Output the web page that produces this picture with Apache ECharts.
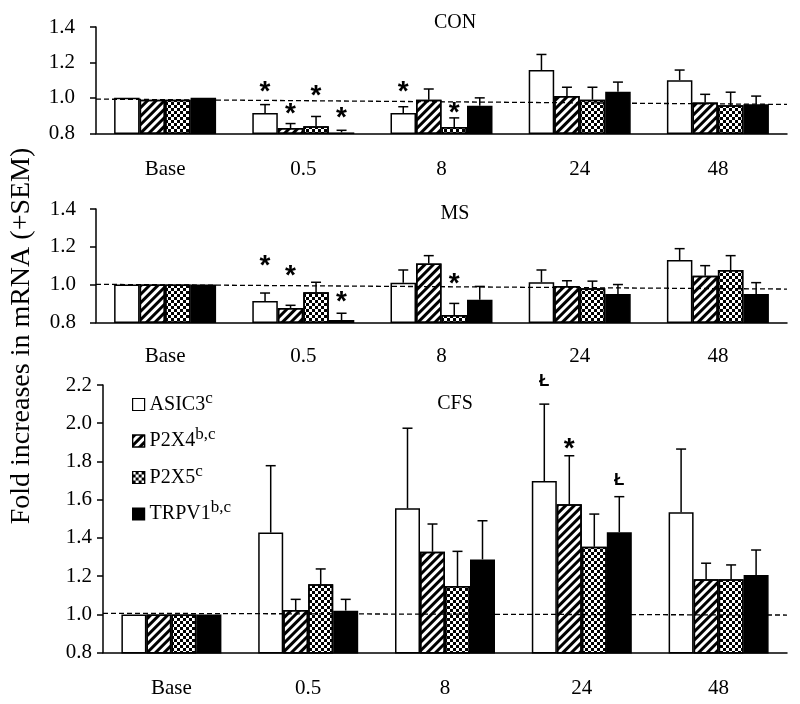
<!DOCTYPE html>
<html>
<head>
<meta charset="UTF-8">
<title>Fold increases in mRNA</title>
<style>
    html, body { margin: 0; padding: 0; background: #fff; }
    #chart { width: 800px; height: 704px; }
</style>
<script src="https://cdn.jsdelivr.net/npm/echarts@6/dist/echarts.min.js"></script>
</head>
<body>
<div id="chart"></div>
<script>
    // ---- data ----
    const categories = ['Base', '0.5', '8', '24', '48'];
    const genes = ['ASIC3', 'P2X4', 'P2X5', 'TRPV1'];
    const geneSup = ['c', 'b,c', 'c', 'b,c'];
    const panelTitles = ['CON', 'MS', 'CFS'];

    // one row per gene (ASIC3, P2X4, P2X5, TRPV1), one column per time point
    const conMean = [
        [1.00, 0.915, 0.915, 1.157, 1.100],
        [0.99, 0.830, 0.990, 1.011, 0.974],
        [0.99, 0.840, 0.836, 0.990, 0.958],
        [1.00, 0.805, 0.955, 1.034, 0.964]
    ];
    const conSem = [
        [0, 0.047, 0.035, 0.088, 0.057],
        [0, 0.025, 0.060, 0.049, 0.046],
        [0, 0.055, 0.051, 0.070, 0.074],
        [0, 0.012, 0.045, 0.055, 0.046]
    ];
    const msMean = [
        [1.00, 0.913, 1.010, 1.012, 1.130],
        [1.00, 0.876, 1.112, 0.992, 1.047],
        [1.00, 0.959, 0.838, 0.980, 1.077],
        [1.00, 0.812, 0.920, 0.950, 0.950]
    ];
    const msSem = [
        [0, 0.042, 0.067, 0.065, 0.060],
        [0, 0.014, 0.041, 0.028, 0.053],
        [0, 0.053, 0.062, 0.038, 0.076],
        [0, 0.036, 0.070, 0.050, 0.060]
    ];
    const cfsMean = [
        [1.00, 1.428, 1.555, 1.698, 1.534],
        [1.00, 1.023, 1.328, 1.576, 1.184],
        [1.00, 1.158, 1.149, 1.354, 1.184],
        [1.00, 1.020, 1.288, 1.430, 1.206]
    ];
    const cfsSem = [
        [0, 0.350, 0.419, 0.402, 0.331],
        [0, 0.056, 0.145, 0.254, 0.084],
        [0, 0.080, 0.181, 0.171, 0.075],
        [0, 0.059, 0.202, 0.186, 0.131]
    ];

    // dashed reference line: value at left edge, value at right edge
    const conRef = [0.993, 0.963];
    const msRef = [1.001, 0.976];
    const cfsRef = [1.006, 0.997];

    // significance marks: [time index, gene index, y value, symbol]
    const conMarks = [[1, 0, 1.066, '*'], [1, 1, 0.944, '*'], [1, 2, 1.044, '*'], [1, 3, 0.918, '*'],
                      [2, 0, 1.066, '*'], [2, 2, 0.946, '*']];
    const msMarks = [[1, 0, 1.126, '*'], [1, 1, 1.077, '*'], [1, 3, 0.939, '*'], [2, 2, 1.035, '*']];
    const cfsMarks = [[3, 0, 2.217, 'Ł'], [3, 1, 1.897, '*'], [3, 3, 1.703, 'Ł']];

    const yMax = [1.4, 1.4, 2.2];

    // ---- layout ----
    const FONT = 'Liberation Serif';
    const grids = [
        {left: 96, top: 27, width: 691, height: 106.3},
        {left: 96, top: 209, width: 691, height: 113.3},
        {left: 103, top: 385, width: 684, height: 267.7}
    ];
    const barW = [25.5, 25.5, 25];
    const yLabelMargin = [21, 20, 11];
    const xLabelMargin = [26, 24, 25];
    const titleY = [18.5, 210, 400];

    const means = [conMean, msMean, cfsMean];
    const sems = [conSem, msSem, cfsSem];
    const refs = [conRef, msRef, cfsRef];
    const marks = [conMarks, msMarks, cfsMarks];

    const edge = {borderColor: '#000', borderWidth: 1.5};
    const geneStyles = [
        Object.assign({color: '#fff'}, edge),
        Object.assign({color: '#fff', decal: {
            symbol: 'rect', symbolSize: 1, color: '#000',
            dashArrayX: [1, 0], dashArrayY: [3, 3], rotation: -Math.PI / 4
        }}, edge),
        Object.assign({color: '#fff', decal: {
            symbol: 'rect', symbolSize: 1, color: '#000',
            dashArrayX: [[3, 3], [0, 3, 3, 0]], dashArrayY: [3, 0], rotation: 0
        }}, edge),
        Object.assign({color: '#000'}, edge)
    ];

    let chart = echarts.init(document.getElementById('chart'), null, {renderer: 'canvas'});

    const xAxes = [], yAxes = [], series = [], titles = [];

    panelTitles.forEach((t, p) => {
        titles.push({
            text: t, left: 450, top: titleY[p] - 11, textAlign: 'center',
            textStyle: {fontFamily: FONT, fontSize: 20, fontWeight: 'normal', color: '#000'}
        });
        xAxes.push({
            type: 'category', gridIndex: p, data: categories,
            axisLine: {lineStyle: {color: '#000', width: 1.5}},
            axisTick: {length: 6, lineStyle: {color: '#000', width: 1.5}},
            axisLabel: {margin: xLabelMargin[p], color: '#000', fontFamily: FONT, fontSize: 21}
        });
        yAxes.push({
            type: 'value', gridIndex: p, min: 0.8, max: yMax[p], interval: 0.2,
            axisLine: {show: true, lineStyle: {color: '#000', width: 1.5}},
            axisTick: {show: true, length: 6, lineStyle: {color: '#000', width: 1.5}},
            splitLine: {show: false},
            axisLabel: {margin: yLabelMargin[p], color: '#000', fontFamily: FONT, fontSize: 21,
                formatter: v => v.toFixed(1)}
        });
    });
    // hidden value axes for the dashed reference lines
    panelTitles.forEach((t, p) => {
        xAxes.push({type: 'value', gridIndex: p, min: 0, max: 1, show: false});
    });

    panelTitles.forEach((t, p) => {
        const w = barW[p];
        genes.forEach((g, gi) => {
            series.push({
                name: g, type: 'bar', xAxisIndex: p, yAxisIndex: p,
                data: means[p][gi], barWidth: w, barGap: '0%',
                itemStyle: geneStyles[gi], emphasis: {disabled: true}, z: 2
            });
        });

        // error bars (+SEM only)
        const errData = [];
        genes.forEach((g, gi) => {
            categories.forEach((c, ci) => {
                const s = sems[p][gi][ci];
                if (s > 0) errData.push([ci, gi, means[p][gi][ci], means[p][gi][ci] + s]);
            });
        });
        series.push({
            type: 'custom', xAxisIndex: p, yAxisIndex: p, z: 4, silent: true,
            encode: {x: 0, y: [2, 3]},
            data: errData,
            renderItem: (params, api) => {
                const base = api.coord([api.value(0), api.value(2)]);
                const top = api.coord([api.value(0), api.value(3)]);
                const x = base[0] + (api.value(1) - 1.5) * w;
                const st = {stroke: '#000', lineWidth: 1.5};
                return {type: 'group', children: [
                    {type: 'line', shape: {x1: x, y1: base[1], x2: x, y2: top[1]}, style: st},
                    {type: 'line', shape: {x1: x - 5, y1: top[1], x2: x + 5, y2: top[1]}, style: st}
                ]};
            }
        });

        // dashed reference line
        series.push({
            type: 'line', xAxisIndex: 3 + p, yAxisIndex: p, z: 5, silent: true,
            data: [[0, refs[p][0]], [1, refs[p][1]]],
            symbol: 'none',
            lineStyle: {color: '#000', width: 1.3, type: [5, 3]}
        });

        // significance marks
        const mk = marks[p];
        series.push({
            type: 'custom', xAxisIndex: p, yAxisIndex: p, z: 6, silent: true, clip: false,
            encode: {x: 0, y: 2},
            data: mk.map(m => [m[0], m[1], m[2]]),
            renderItem: (params, api) => {
                const pt = api.coord([api.value(0), api.value(2)]);
                const sym = mk[params.dataIndex][3];
                const star = sym === '*';
                return {
                    type: 'text',
                    x: pt[0] + (api.value(1) - 1.5) * w,
                    y: pt[1] + (star ? 6 : 0),
                    style: {
                        text: sym, fill: '#000', align: 'center', verticalAlign: 'middle',
                        fontFamily: 'Liberation Sans', fontWeight: 'bold', fontSize: star ? 28 : 17
                    }
                };
            }
        });
    });

    const rich = {
        n: {fontFamily: FONT, fontSize: 20, color: '#000'},
        s: {fontFamily: FONT, fontSize: 17, color: '#000', padding: [0, 0, 12, 0]}
    };

    const option = {
        animation: false,
        title: titles,
        grid: grids,
        xAxis: xAxes,
        yAxis: yAxes,
        legend: {
            data: genes, orient: 'vertical', left: 127, top: 385,
            icon: 'rect', itemWidth: 12, itemHeight: 12, itemGap: 12,
            itemStyle: {borderColor: '#000', borderWidth: 1.2},
            formatter: name => '{n|' + name + '}{s|' + geneSup[genes.indexOf(name)] + '}',
            textStyle: {fontFamily: FONT, fontSize: 20, color: '#000', rich: rich}
        },
        graphic: [{
            type: 'text', x: 22, y: 336, rotation: Math.PI / 2,
            style: {
                text: 'Fold increases in mRNA (+SEM)', fill: '#000',
                fontFamily: FONT, fontSize: 28, align: 'center', verticalAlign: 'middle'
            }
        }],
        series: series
    };
    chart.setOption(option);
</script>
</body>
</html>
